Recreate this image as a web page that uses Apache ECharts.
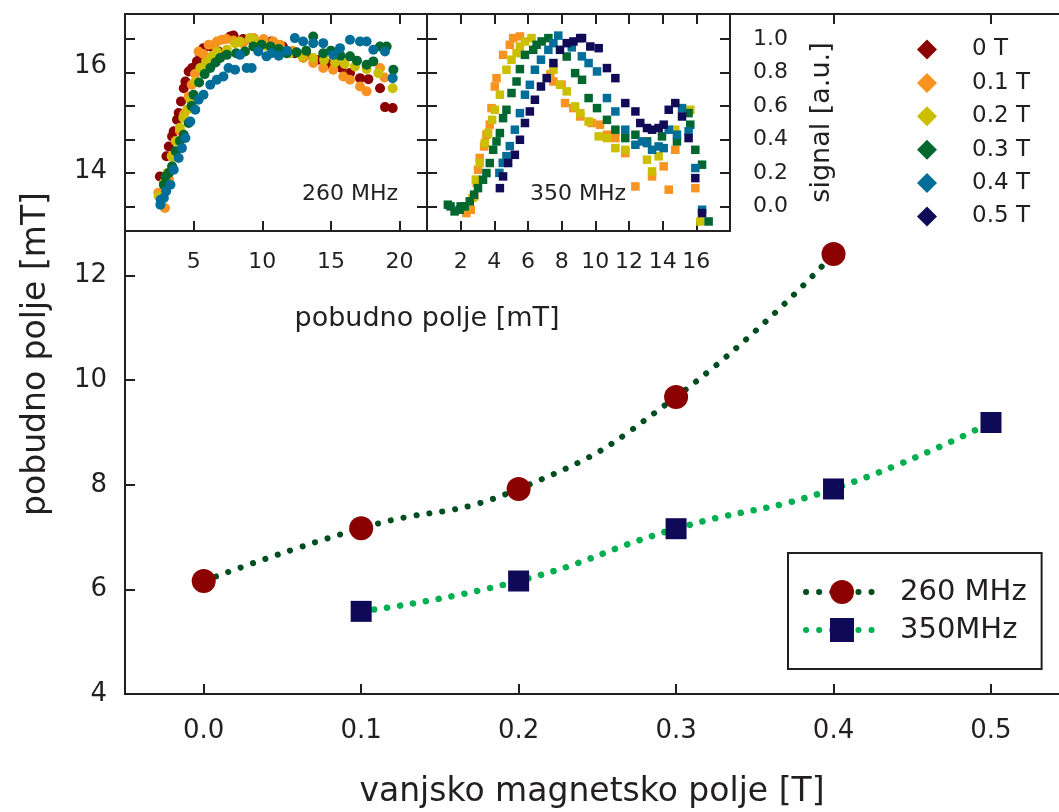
<!DOCTYPE html>
<html>
<head>
<meta charset="utf-8">
<script src="https://cdn.jsdelivr.net/npm/echarts@6/dist/echarts.min.js"></script>
<style>
  html, body { margin: 0; padding: 0; background: #fff; }
  #chart { width: 1059px; height: 812px; }
</style>
</head>
<body>
<div id="chart"></div>
<script>
// main chart: pobudno polje vs vanjsko polje
var fieldT = [0, 0.1, 0.2, 0.3, 0.4, 0.5];
var mhz260 = [6.16, 7.17, 7.92, 9.68, 12.41];          // 0.0 .. 0.4 T
var mhz350 = [null, 5.58, 6.16, 7.16, 7.92, 9.19];     // 0.1 .. 0.5 T

var mainXTicks = [0, 0.1, 0.2, 0.3, 0.4, 0.5];
var mainYLabels = [4, 6, 8, 10, 12, 14, 16];
var mainYTicks = [4, 6, 8, 10, 12];
var inset260XTicks = [5, 10, 15, 20];
var inset350XTicks = [2, 4, 6, 8, 10, 12, 14, 16];
var signalTicks = [0, 0.2, 0.4, 0.6, 0.8, 1.0];

// inset 260 MHz: [pobudno polje mT, signal]
var s260_0T = [[2.54,0.179],[3.02,0.299],[3.19,0.358],[3.43,0.418],[3.55,0.448],[3.79,0.517],[3.91,0.557],[4.08,0.627],[4.28,0.706],[4.40,0.746],[4.64,0.806],[4.88,0.826],[5.24,0.866],[5.48,0.905],[5.72,0.945],[6.21,0.955],[6.81,0.925],[7.66,1.015],[7.90,1.021],[8.6,1.0],[9.3,0.99],[10.0,0.985],[10.67,0.985],[11.5,0.955],[12.37,0.915],[13.2,0.905],[14.0,0.875],[14.8,0.85],[15.78,0.826],[16.39,0.796],[17.12,0.766],[17.73,0.76],[18.58,0.706],[18.94,0.593],[19.5,0.587]];
var s260_01T = [[2.43,0.081],[2.6,0.02],[2.91,-0.01],[3.2,0.16],[3.6,0.3],[4.0,0.45],[4.3,0.55],[4.64,0.657],[4.86,0.726],[5.1,0.79],[5.36,0.925],[5.7,0.91],[6.09,0.965],[6.5,0.965],[6.69,0.985],[7.05,0.995],[7.4,1.0],[7.9,0.99],[8.6,0.975],[9.38,1.005],[10.1,1.0],[10.8,0.985],[11.29,0.965],[12.2,0.93],[12.98,0.886],[13.71,0.856],[14.44,0.826],[15.17,0.816],[15.9,0.776],[16.39,0.756],[17.12,0.716],[17.6,0.687],[18.58,0.826],[18.9,0.77]];
var s260_02T = [[2.46,0.06],[2.83,0.139],[3.1,0.2],[3.4,0.3],[3.7,0.39],[4.0,0.47],[4.25,0.53],[4.52,0.577],[4.76,0.637],[5.12,0.746],[5.48,0.826],[5.9,0.86],[6.33,0.896],[6.69,0.925],[7.42,0.935],[8.02,0.975],[8.38,0.985],[9.1,1.005],[9.38,0.995],[10.2,0.96],[11.0,0.94],[12.0,0.915],[12.9,0.9],[13.71,0.886],[14.5,0.875],[15.3,0.86],[16.0,0.85],[16.75,0.836],[17.6,0.82],[18.45,0.796],[19.5,0.706]];
var s260_03T = [[2.83,0.129],[2.95,0.179],[3.2,0.2],[3.43,0.239],[3.7,0.33],[4.0,0.39],[4.28,0.428],[4.64,0.498],[4.85,0.6],[5.0,0.667],[5.4,0.74],[5.8,0.79],[6.21,0.826],[6.6,0.86],[6.93,0.886],[7.42,0.905],[8.1,0.915],[8.74,0.925],[9.35,0.955],[9.95,0.965],[10.6,0.955],[11.2,0.94],[11.78,0.915],[12.5,0.92],[13.2,0.93],[13.71,1.015],[14.44,0.915],[15.0,0.93],[15.7,0.9],[16.39,0.896],[16.9,0.87],[17.6,0.846],[18.09,0.866],[18.58,0.955],[19.06,0.955],[19.55,0.816]];
var s260_04T = [[2.58,0.01],[2.6,0.04],[2.83,0.05],[3.0,0.09],[3.31,0.129],[3.55,0.219],[3.91,0.289],[4.15,0.348],[4.40,0.408],[4.76,0.507],[5.12,0.577],[5.36,0.637],[5.72,0.667],[6.21,0.726],[6.69,0.756],[7.17,0.776],[7.54,0.826],[8.02,0.816],[8.38,0.905],[8.86,0.826],[9.23,0.826],[9.71,0.925],[10.31,0.896],[10.67,0.915],[11.2,0.9],[11.8,0.93],[12.37,1.005],[12.98,0.985],[13.71,0.975],[14.44,0.975],[15.17,0.905],[15.66,0.945],[16.39,0.995],[17.12,0.985],[17.6,0.985],[18.09,0.935],[18.94,0.925],[19.5,0.766]];

// inset 350 MHz
var s350_01T = [[2.34,-0.04],[2.6,-0.02],[2.8,0.06],[2.95,0.14],[3.03,0.219],[3.13,0.289],[3.39,0.358],[3.53,0.428],[3.73,0.488],[3.83,0.587],[4.03,0.716],[4.13,0.766],[4.52,0.905],[4.92,0.965],[5.12,1.005],[5.52,1.015],[7.33,0.79],[7.51,0.746],[8.0,0.727],[8.2,0.617],[8.69,0.587],[9.1,0.537],[9.78,0.498],[10.28,0.488],[10.69,0.428],[11.19,0.408],[11.78,0.318],[12.38,0.119],[13.37,0.179],[14.06,0.239],[14.36,0.1],[14.75,0.338],[15.94,0.109]];
var s350_02T = [[2.2,0.0],[2.7,0.05],[2.9,0.16],[3.13,0.259],[3.43,0.378],[3.63,0.438],[3.87,0.517],[4.03,0.577],[4.33,0.667],[4.72,0.816],[5.02,0.876],[5.32,0.915],[5.52,0.955],[5.82,0.985],[6.21,1.005],[7.51,0.816],[7.9,0.726],[8.3,0.687],[8.8,0.597],[9.11,0.557],[9.6,0.507],[10.2,0.418],[10.69,0.408],[11.19,0.348],[11.78,0.338],[13.07,0.279],[13.37,0.209],[13.76,0.299],[14.75,0.458],[15.64,0.577],[16.24,-0.09]];
var s350_03T = [[1.24,0.01],[1.4,0.0],[1.64,-0.03],[1.94,-0.02],[2.0,0.0],[2.24,0.0],[2.54,0.03],[2.8,0.07],[3.03,0.109],[3.33,0.159],[3.53,0.199],[3.73,0.259],[3.93,0.338],[4.13,0.388],[4.33,0.438],[4.52,0.527],[4.72,0.577],[5.02,0.677],[5.32,0.746],[5.52,0.82],[5.82,0.905],[6.31,0.935],[6.51,0.965],[6.81,0.985],[7.21,1.005],[8.3,0.895],[8.8,0.796],[9.21,0.756],[9.6,0.647],[10.1,0.587],[10.69,0.517],[11.19,0.458],[11.78,0.408],[12.38,0.428],[13.07,0.388],[13.96,0.418],[14.85,0.388],[15.54,0.557],[15.64,0.488],[15.94,0.338],[16.34,0.249],[16.73,-0.09]];
var s350_04T = [[4.3,0.2],[4.5,0.26],[4.72,0.3],[4.92,0.36],[5.22,0.458],[5.52,0.557],[5.82,0.667],[6.11,0.726],[6.41,0.816],[6.77,0.876],[7.21,0.935],[7.51,0.975],[7.8,1.02],[8.6,0.95],[9.2,0.896],[9.6,0.856],[10.1,0.806],[10.69,0.647],[11.19,0.567],[11.78,0.458],[12.38,0.368],[12.77,0.388],[13.07,0.378],[13.37,0.338],[13.76,0.358],[14.06,0.348],[14.36,0.458],[14.85,0.428],[15.15,0.587],[15.54,0.448],[15.94,0.229],[16.34,-0.02]];
var s350_05T = [[4.33,0.109],[4.52,0.179],[4.82,0.259],[5.22,0.308],[5.52,0.398],[5.82,0.498],[6.11,0.567],[6.41,0.637],[6.77,0.716],[7.11,0.766],[7.51,0.856],[7.9,0.935],[8.3,0.975],[8.7,0.985],[9.1,1.005],[9.21,1.005],[9.7,0.955],[10.2,0.945],[10.69,0.826],[11.19,0.766],[11.78,0.617],[12.38,0.567],[12.67,0.498],[13.07,0.468],[13.37,0.458],[13.76,0.468],[14.06,0.488],[14.36,0.577],[14.75,0.617],[15.15,0.537],[15.54,0.408],[15.94,0.169],[16.34,-0.04]];

var fieldNames = ['0 T', '0.1 T', '0.2 T', '0.3 T', '0.4 T', '0.5 T'];
var fieldColors = ['#8b0000', '#f7931e', '#cbbf00', '#00672f', '#006e99', '#100a57'];

var ink = '#231f20';
var font = 'DejaVu Sans, Liberation Sans, Arial, sans-serif';

var myChart = echarts.init(document.getElementById('chart'));

function frameAxis(extra) {
  var a = {
    type: 'value',
    axisLine: { show: true, onZero: false, lineStyle: { color: ink, width: 2 } },
    axisTick: { show: true, inside: true, length: 10, lineStyle: { color: ink, width: 2 } },
    axisLabel: { show: false },
    splitLine: { show: false }
  };
  return echarts.util.merge(a, extra, true);
}

function pairs(xs, ys) {
  var out = [];
  for (var i = 0; i < xs.length; i++) {
    if (ys[i] != null) out.push([xs[i], ys[i]]);
  }
  return out;
}

function scatter(name, data, xi, yi, symbol, size) {
  return {
    name: name,
    type: 'scatter',
    xAxisIndex: xi,
    yAxisIndex: yi,
    symbol: symbol,
    symbolSize: size,
    itemStyle: { color: fieldColors[fieldNames.indexOf(name)], opacity: 1 },
    data: data
  };
}

var yMin = -0.147, yMax = 1.149;

myChart.setOption({
  animation: false,
  textStyle: { fontFamily: font, color: ink },
  title: [
    { text: 'pobudno polje [mT]', left: 427, top: 305, textAlign: 'center', padding: 0,
      textStyle: { fontSize: 27, fontWeight: 'normal', color: ink, fontFamily: font } },
    { text: '260 MHz', left: 302, top: 183, padding: 0,
      textStyle: { fontSize: 22, fontWeight: 'normal', color: ink, fontFamily: font } },
    { text: '350 MHz', left: 530, top: 183, padding: 0,
      textStyle: { fontSize: 22, fontWeight: 'normal', color: ink, fontFamily: font } }
  ],
  legend: [
    {
      data: ['260 MHz', '350MHz'],
      orient: 'vertical',
      left: 788, top: 553,
      padding: [24.5, 15, 24.5, 15],
      itemWidth: 72, itemHeight: 30, itemGap: 9,
      borderColor: ink, borderWidth: 2,
      lineStyle: { width: 6 },
      textStyle: { fontSize: 29, color: ink, padding: [0, 0, 0, 17] }
    },
    {
      data: fieldNames,
      orient: 'vertical',
      left: 917, top: 38, padding: 0,
      icon: 'diamond',
      itemWidth: 20, itemHeight: 20, itemGap: 10.4,
      textStyle: { fontSize: 23, color: ink, padding: [0, 0, 0, 30] }
    }
  ],
  grid: [
    { left: 125, top: 14, right: 0, height: 680, outerBoundsMode: 'none' },
    { left: 125, top: 14, width: 302, height: 217, outerBoundsMode: 'none' },
    { left: 427, top: 14, width: 303, height: 217, outerBoundsMode: 'none' }
  ],
  xAxis: [
    frameAxis({ gridIndex: 0, position: 'bottom', min: -0.05, max: 0.5432,
      axisTick: { customValues: mainXTicks },
      axisLabel: { show: true, customValues: mainXTicks, margin: 24, fontSize: 26, color: ink,
        formatter: function (v) { return v.toFixed(1); } },
      name: 'vanjsko magnetsko polje [T]', nameLocation: 'middle', nameGap: 82,
      nameTextStyle: { fontSize: 33, color: ink } }),
    frameAxis({ gridIndex: 0, position: 'top', min: -0.05, max: 0.5432,
      axisTick: { customValues: [0.4, 0.5] } }),
    frameAxis({ gridIndex: 1, position: 'bottom', min: 0, max: 22,
      axisTick: { customValues: inset260XTicks },
      axisLabel: { show: true, customValues: inset260XTicks, margin: 20, fontSize: 22, color: ink } }),
    frameAxis({ gridIndex: 1, position: 'top', min: 0, max: 22,
      axisTick: { customValues: inset260XTicks } }),
    frameAxis({ gridIndex: 2, position: 'bottom', min: 0, max: 18,
      axisTick: { customValues: inset350XTicks },
      axisLabel: { show: true, customValues: inset350XTicks, margin: 20, fontSize: 22, color: ink } }),
    frameAxis({ gridIndex: 2, position: 'top', min: 0, max: 18,
      axisTick: { customValues: inset350XTicks } })
  ],
  yAxis: [
    frameAxis({ gridIndex: 0, position: 'left', min: 4, max: 17,
      axisTick: { customValues: mainYTicks },
      axisLabel: { show: true, customValues: mainYLabels, margin: 18, fontSize: 26, color: ink },
      name: 'pobudno polje [mT]', nameLocation: 'middle', nameGap: 72, nameRotate: 90,
      nameTextStyle: { fontSize: 33, color: ink } }),
    frameAxis({ gridIndex: 1, position: 'left', min: yMin, max: yMax,
      axisTick: { customValues: signalTicks } }),
    frameAxis({ gridIndex: 1, position: 'right', min: yMin, max: yMax,
      axisTick: { customValues: signalTicks } }),
    frameAxis({ gridIndex: 2, position: 'left', min: yMin, max: yMax,
      axisTick: { customValues: signalTicks } }),
    frameAxis({ gridIndex: 2, position: 'right', min: yMin, max: yMax,
      axisTick: { customValues: signalTicks },
      axisLabel: { show: true, customValues: signalTicks, margin: 23, fontSize: 22, color: ink,
        formatter: function (v) { return v.toFixed(1); } },
      name: 'signal [a.u.]', nameLocation: 'middle', nameGap: 78, nameRotate: 90,
      nameTextStyle: { fontSize: 27, color: ink } })
  ],
  series: [
    scatter('0 T', s260_0T, 2, 1, 'circle', 10),
    scatter('0.1 T', s260_01T, 2, 1, 'circle', 10),
    scatter('0.2 T', s260_02T, 2, 1, 'circle', 10),
    scatter('0.3 T', s260_03T, 2, 1, 'circle', 10),
    scatter('0.4 T', s260_04T, 2, 1, 'circle', 10),
    scatter('0.1 T', s350_01T, 4, 3, 'rect', 8.5),
    scatter('0.2 T', s350_02T, 4, 3, 'rect', 8.5),
    scatter('0.3 T', s350_03T, 4, 3, 'rect', 8.5),
    scatter('0.4 T', s350_04T, 4, 3, 'rect', 8.5),
    scatter('0.5 T', s350_05T, 4, 3, 'rect', 8.5),
    {
      name: '260 MHz',
      type: 'line',
      xAxisIndex: 0, yAxisIndex: 0,
      smooth: 0.5,
      symbol: 'circle',
      symbolSize: 24,
      itemStyle: { color: '#8b0000' },
      lineStyle: { color: '#004d1f', width: 6, type: [0.1, 13], cap: 'round' },
      data: pairs(fieldT, mhz260)
    },
    {
      name: '350MHz',
      type: 'line',
      xAxisIndex: 0, yAxisIndex: 0,
      smooth: 0.5,
      symbol: 'rect',
      symbolSize: 21,
      itemStyle: { color: '#0f0a57' },
      lineStyle: { color: '#00b050', width: 6.5, type: [0.1, 13], cap: 'round' },
      data: pairs(fieldT, mhz350)
    }
  ]
});
</script>
</body>
</html>
